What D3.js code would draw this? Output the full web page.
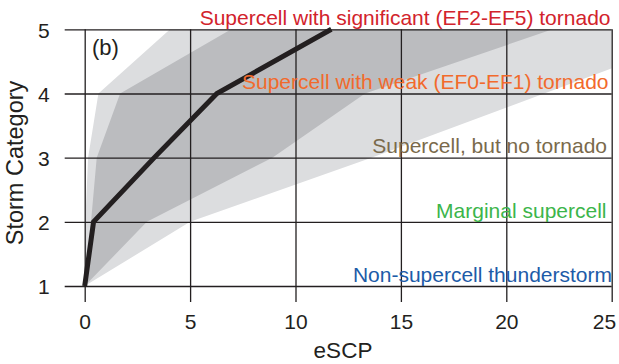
<!DOCTYPE html>
<html><head><meta charset="utf-8">
<script src="https://cdn.jsdelivr.net/npm/d3@7"></script>
<style>
html,body{margin:0;padding:0;background:#fff;}
svg{display:block;font-family:"Liberation Sans",Arial,Helvetica,sans-serif;}
</style></head>
<body>
<svg id="chart" width="619" height="364"></svg>
<script>
// Storm categories (y) and eSCP values (x)
const categories = [1, 2, 3, 4, 5];
const medianESCP = [0, 0.42, 3.3, 6.27, 11.7];
const innerLow   = [0, 0.3, 0.57, 1.68, 6.95];
const innerHigh  = [0, 2.95, 8.9, 13.3, 22.2];
const outerLow   = [0, 0.03, 0.16, 0.65, 4.05];
const outerHigh  = [0, 5.0, 13.6, 21.8, 30.0];
const xTicks = [0, 5, 10, 15, 20, 25];
const yTicks = [1, 2, 3, 4, 5];
const labelTexts = [
  "Non-supercell thunderstorm",
  "Marginal supercell",
  "Supercell, but no tornado",
  "Supercell with weak (EF0-EF1) tornado",
  "Supercell with significant (EF2-EF5) tornado"
];
const labelColors = ["#1d5ba8", "#3cb54b", "#7a6a4b", "#f26a2c", "#d2232c"];
const labelBaselines = [281.7, 218.3, 153.3, 88.5, 25];
const labelRight = [612, 606.5, 607, 608.5, 610.5];

(function () {
const svg = d3.select("#chart");
const pL = 84.7, pR = 611.7, pT = 29.3, pB = 286;
const x = d3.scaleLinear().domain([0, 25]).range([pL, pR]);
const y = d3.scaleLinear().domain([1, 5]).range([pB, pT]);

svg.append("defs").append("clipPath").attr("id", "plotclip")
  .append("rect").attr("x", pL).attr("y", pT - 1)
  .attr("width", pR - pL).attr("height", pB - pT + 2);

const rows = categories.map((c, i) => ({
  c, med: medianESCP[i], il: innerLow[i], ih: innerHigh[i], ol: outerLow[i], oh: outerHigh[i]
}));

const g = svg.append("g").attr("clip-path", "url(#plotclip)");
g.append("path").datum(rows)
  .attr("d", d3.area().y(d => y(d.c)).x0(d => x(d.ol)).x1(d => x(d.oh)))
  .attr("fill", "#dcdddf");
g.append("path").datum(rows)
  .attr("d", d3.area().y(d => y(d.c)).x0(d => x(d.il)).x1(d => x(d.ih)))
  .attr("fill", "#bbbcbf");

// Grid / axes
const yAxis = d3.axisLeft(y).tickValues(yTicks).tickFormat(d3.format("d"))
  .tickSize(-(pR - (pL - 20))).tickPadding(15);
const ya = svg.append("g").attr("transform", `translate(${pL - 20},0)`).call(yAxis);
ya.select(".domain").remove();
ya.selectAll("line").attr("stroke", "#231f20").attr("stroke-width", 1.3);
ya.selectAll("text").attr("font-size", 21).attr("fill", "#231f20").attr("dy", "0.38em")
  .attr("font-family", "Liberation Sans, Arial, sans-serif");

const xAxis = d3.axisBottom(x).tickValues(xTicks).tickFormat(d3.format("d"))
  .tickSize(-((pB + 16) - pT)).tickPadding(12);
const xa = svg.append("g").attr("transform", `translate(0,${pB + 16})`).call(xAxis);
xa.select(".domain").remove();
xa.selectAll("line").attr("stroke", "#231f20").attr("stroke-width", 1.3);
xa.selectAll("text").attr("font-size", 21).attr("fill", "#231f20")
  .attr("font-family", "Liberation Sans, Arial, sans-serif");
// last tick label sits pulled in so it fits inside the frame
xa.selectAll(".tick").filter(d => d === xTicks[xTicks.length - 1]).select("text")
  .attr("text-anchor", "end").attr("x", 4);

// Median line
svg.append("path").datum(rows)
  .attr("d", d3.line().x(d => x(d.med)).y(d => y(d.c)))
  .attr("fill", "none").attr("stroke", "#231f20").attr("stroke-width", 5)
  .attr("stroke-linejoin", "miter").attr("stroke-linecap", "butt");

// Category labels
svg.append("g").selectAll("text").data(labelTexts).join("text")
  .attr("x", (d, i) => labelRight[i]).attr("y", (d, i) => labelBaselines[i])
  .attr("text-anchor", "end").attr("font-size", 21)
  .attr("fill", (d, i) => labelColors[i]).text(d => d);

// Panel label
svg.append("text").attr("x", 92).attr("y", 55).attr("font-size", 22)
  .attr("fill", "#231f20").text("(b)");

// Axis titles
svg.append("text").attr("x", 343).attr("y", 358).attr("text-anchor", "middle")
  .attr("font-size", 22.5).attr("fill", "#231f20").text("eSCP");
svg.append("text").attr("transform", "translate(22.5,163) rotate(-90)")
  .attr("text-anchor", "middle").attr("font-size", 23.5).attr("fill", "#231f20")
  .text("Storm Category");
})();
</script>
</body></html>
